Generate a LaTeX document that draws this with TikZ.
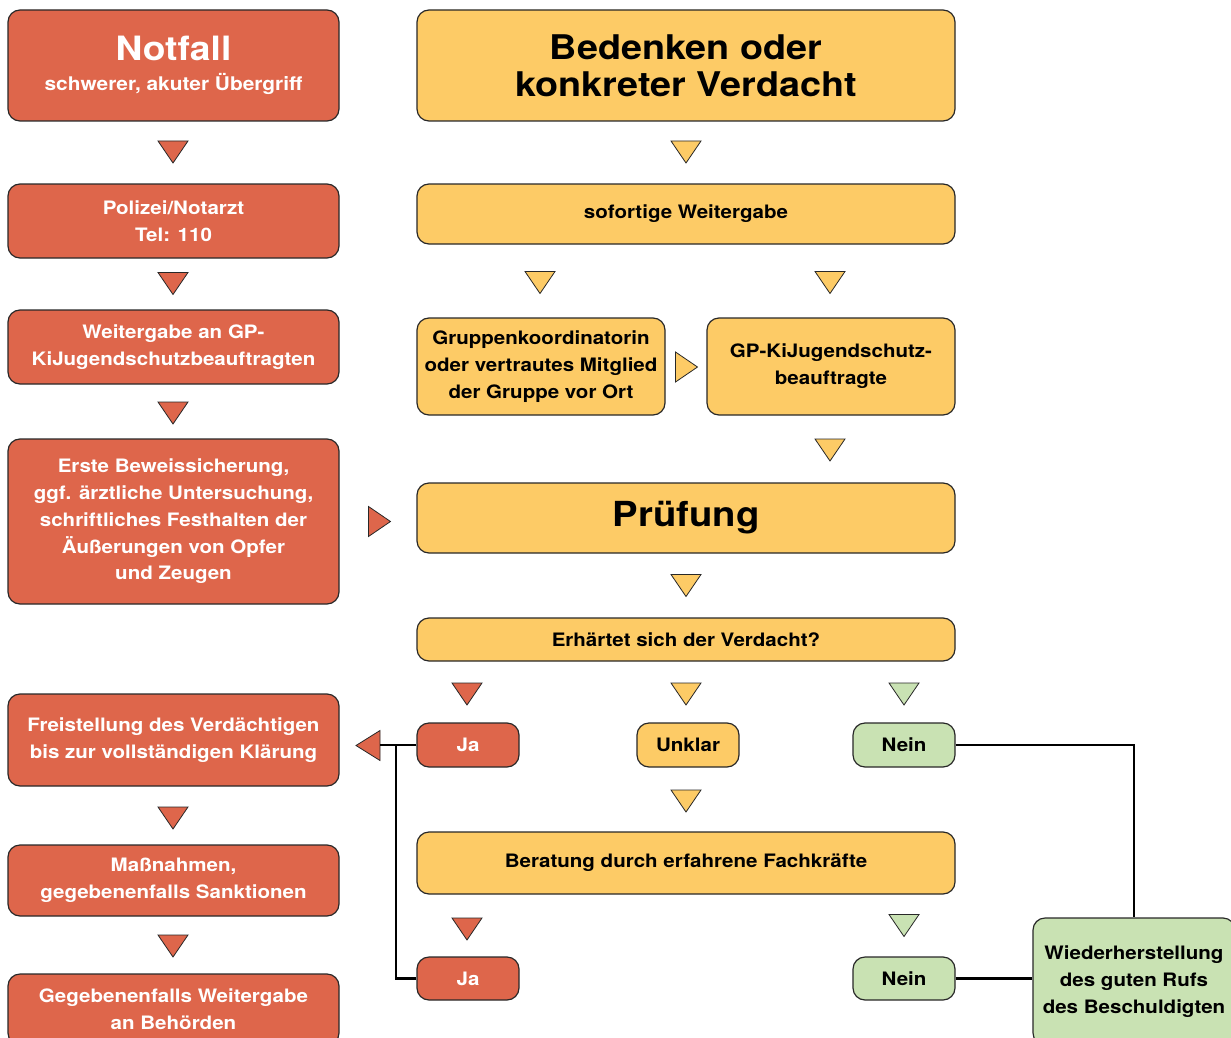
\documentclass[tikz,border=0pt]{standalone}
\usepackage{fontspec}
\setmainfont{TeX Gyre Heros}[FakeStretch=1.11]
\usetikzlibrary{positioning}
\definecolor{notrot}{RGB}{222,102,75}
\definecolor{verdgelb}{RGB}{253,203,102}
\definecolor{entgruen}{RGB}{201,226,179}
\definecolor{rand}{RGB}{40,40,40}

\tikzset{
  box/.style={draw=rand,line width=1.2pt,rounded corners=12pt,align=center,inner sep=2pt,
    font=\bfseries\fontsize{18.5}{26.8}\selectfont},
  redbox/.style={box,fill=notrot,text=white},
  yellowbox/.style={box,fill=verdgelb},
  greenbox/.style={box,fill=entgruen},
  wide/.style={minimum width=331pt},
  broad/.style={minimum width=538pt},
  small/.style={minimum width=102pt,minimum height=44pt},
  tri/.style={draw=rand,line width=0.8pt,fill=#1},
  line/.style={line width=2.4pt,black},
  down/.pic={\path[tri=#1] (-15,-11) -- (15,-11) -- (0,11) -- cycle;},
  right/.pic={\path[tri=#1] (-11,-15) -- (-11,15) -- (11,0) -- cycle;},
  left/.pic={\path[tri=#1] (12,-15) -- (12,15) -- (-12,0) -- cycle;}
}

\begin{document}
\begin{tikzpicture}[x=1pt,y=-1pt]
\useasboundingbox (0,0) rectangle (1231,1038);
% linke Spalte: Notfall
\node[redbox,wide,minimum height=111pt] (notfall) at (173.5,65.5) {{\fontsize{33.5}{36}\selectfont Notfall}\\[3pt]{\fontsize{18.8}{22}\selectfont schwerer, akuter Übergriff}};
\node[redbox,wide,minimum height=74pt] (polizei) at (173.5,221) {Polizei/Notarzt\\Tel: 110};
\node[redbox,wide,minimum height=74pt] (weitergabe) at (173.5,347) {Weitergabe an GP-\\KiJugendschutzbeauftragten};
\node[redbox,wide,minimum height=165pt] (beweis) at (173.5,521.5) {Erste Beweissicherung,\\ggf. ärztliche Untersuchung,\\schriftliches Festhalten der\\Äußerungen von Opfer\\und Zeugen};
\node[redbox,wide,minimum height=92pt] (freistellung) at (173.5,740) {Freistellung des Verdächtigen\\bis zur vollständigen Klärung};
\node[redbox,wide,minimum height=71pt] (massnahmen) at (173.5,880.5) {Maßnahmen,\\gegebenenfalls Sanktionen};
\node[redbox,wide,minimum height=71pt] (behoerden) at (173.5,1009.5) {Gegebenenfalls Weitergabe\\an Behörden};
% rechte Spalte: Verdacht
\node[yellowbox,broad,minimum height=111pt,font=\bfseries\fontsize{34}{37}\selectfont] (bedenken) at (686,65.5) {Bedenken oder\\konkreter Verdacht};
\node[yellowbox,broad,minimum height=60pt] (sofort) at (686,214) {sofortige Weitergabe};
\node[yellowbox,minimum width=248pt,minimum height=97pt] (gruppe) at (541,366.5) {Gruppenkoordinatorin\\oder vertrautes Mitglied\\der Gruppe vor Ort};
\node[yellowbox,minimum width=248pt,minimum height=97pt] (beauftragte) at (831,366.5) {GP-KiJugendschutz-\\beauftragte};
\node[yellowbox,broad,minimum height=70pt,font=\bfseries\fontsize{34.5}{38}\selectfont] (pruefung) at (686,518) {Prüfung};
\node[yellowbox,broad,minimum height=43pt] (erhaertet) at (686,639.5) {Erhärtet sich der Verdacht?};
\node[redbox,small] (ja1) at (468,745) {Ja};
\node[yellowbox,small] (unklar) at (688,745) {Unklar};
\node[greenbox,small] (nein1) at (904,745) {Nein};
\node[yellowbox,broad,minimum height=62pt] (beratung) at (686,863) {Beratung durch erfahrene Fachkräfte};
\node[redbox,small,minimum height=43pt] (ja2) at (468,978.5) {Ja};
\node[greenbox,small,minimum height=43pt] (nein2) at (904,978.5) {Nein};
\node[greenbox,minimum width=202pt,minimum height=127pt] (ruf) at (1134,981.5) {Wiederherstellung\\des guten Rufs\\des Beschuldigten};
% Dreiecke
\foreach \px/\py in {173/152,173/283.5,173/413,467/694,173/818,467/929,173/946}
  \pic at (\px,\py) {down=notrot};
\foreach \px/\py in {686/152,540/282.5,830/282.5,830/450,686/585.5,686/694,686/801}
  \pic at (\px,\py) {down=verdgelb};
\foreach \px/\py in {904/694,904/925.5}
  \pic at (\px,\py) {down=entgruen};
\pic at (686.5,367) {right=verdgelb};
\pic at (379.5,521.5) {right=notrot};
\pic at (368,745.5) {left=notrot};
% Verbindungen
\coordinate (spitze) at (380,745);
\coordinate (knick) at (396,745);
\draw[line] (ja1.west) -- (spitze);
\draw[line] (ja2.west) -| (knick);
\draw[line] (nein1.east) -| (ruf.north);
\draw[line] (nein2.east) -- (nein2.east -| ruf.west);
\end{tikzpicture}
\end{document}
